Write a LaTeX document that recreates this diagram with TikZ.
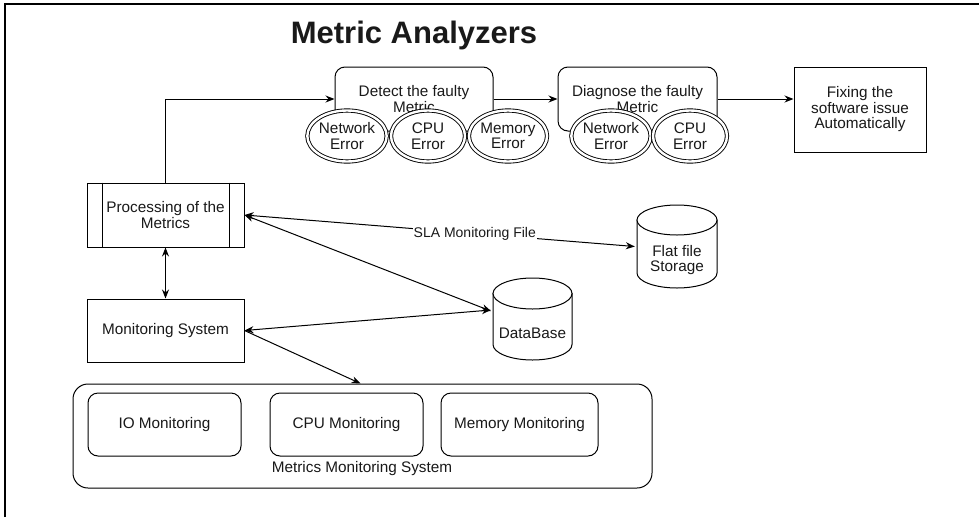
\documentclass[tikz,border=0pt]{standalone}
\usepackage{fontspec}
\setmainfont{Liberation Sans}
\usetikzlibrary{arrows.meta,shapes.geometric,calc}
\begin{document}
\begin{tikzpicture}[x=1pt,y=-1pt,
  every node/.style={font=\fontsize{15.3}{15.5}\selectfont, align=center, inner sep=0pt, text=black!90},
  box/.style={draw, line width=1pt, fill=white},
  rbox/.style={box, rounded corners=10pt},
  err/.style={ellipse, draw, line width=0.9pt, double, double distance=2.4pt, fill=white, minimum width=74pt, minimum height=51pt},
  arr/.style={line width=1pt, -{Stealth[length=9pt,width=7pt]}},
  darr/.style={line width=1pt, {Stealth[length=9pt,width=7pt]}-{Stealth[length=9pt,width=7pt]}},
  lbl/.style={font=\fontsize{14}{14}\selectfont, fill=white, inner sep=1pt},
  cyl/.style={draw, line width=1pt, fill=white}
]
\useasboundingbox (0,0) rectangle (979,517);
\draw[line width=1.2pt] (5,517) -- (5,4) -- (979,4);

\node[font=\fontsize{31}{31}\selectfont\bfseries] (title) at (414,35) {Metric Analyzers};

% top row
\node[rbox, minimum width=158pt, minimum height=64pt] (detect) at (414,99) {Detect the faulty\\Metric};
\node[rbox, minimum width=159pt, minimum height=64pt] (diag) at (637.5,99) {Diagnose the faulty\\Metric};
\node[box, minimum width=132pt, minimum height=85pt] (fix) at (860,109.5) {Fixing the\\software issue\\Automatically};

\node[err] (d1) at (347,136) {Network\\Error};
\node[err] (d2) at (428,136) {CPU\\Error};
\node[err] (d3) at (508,136) {Memory\\Error};
\node[err] (g1) at (611,136) {Network\\Error};
\node[err] (g2) at (690,136) {CPU\\Error};

% left column
\node[box, minimum width=157pt, minimum height=64pt] (proc) at (165.5,215) {Processing of the\\Metrics};
\draw[line width=1pt] ([xshift=16pt]proc.north west) -- ([xshift=16pt]proc.south west);
\draw[line width=1pt] ([xshift=-15pt]proc.north east) -- ([xshift=-15pt]proc.south east);
\node[box, minimum width=157pt, minimum height=63pt] (mon) at (165.5,330.5) {Monitoring System};

% cylinders
\node[minimum width=80pt, minimum height=83pt] (flat) at (677,246.5) {};
\path[cyl] (637,220) -- (637,273) .. controls (637,281.3) and (654.9,288) .. (677,288)
  .. controls (699.1,288) and (717,281.3) .. (717,273) -- (717,220) -- cycle;
\draw[line width=1pt, fill=white] (677,220) ellipse [x radius=40pt, y radius=15pt];
\node (flatlbl) at (677,260) {Flat file\\Storage};

\node[minimum width=79pt, minimum height=82pt] (db) at (532.5,319) {};
\path[cyl] (493,293.5) -- (493,344.5) .. controls (493,353) and (510.7,360) .. (532.5,360)
  .. controls (554.3,360) and (572,353) .. (572,344.5) -- (572,293.5) -- cycle;
\draw[line width=1pt, fill=white] (532.5,293.5) ellipse [x radius=39.5pt, y radius=15.5pt];
\node (dblbl) at (532.5,333) {DataBase};

% bottom container
\node[box, rounded corners=15pt, minimum width=579pt, minimum height=104pt] (mms) at (362.5,436) {};
\node[rbox, minimum width=153pt, minimum height=63pt] (io) at (164.5,424.5) {IO Monitoring};
\node[rbox, minimum width=153pt, minimum height=63pt] (cpu) at (346.5,424.5) {CPU Monitoring};
\node[rbox, minimum width=157pt, minimum height=63pt] (mem) at (519.5,424.5) {Memory Monitoring};
\node (mmslbl) at (362,469) {Metrics Monitoring System};

% connectors
\draw[arr] (proc.north) |- (detect.west);
\draw[arr] (detect.east) -- (diag.west);
\draw[arr] (diag.east) -- (diag.east -| fix.west);
\draw[darr] (proc.south) -- (mon.north);
\draw[darr] (proc.east) -- node[lbl, pos=0.59] (sla) {SLA Monitoring File} ([xshift=-2pt]flat.west);
\draw[darr] (proc.east) -- ([xshift=-2pt,yshift=8pt]db.west);
\draw[darr] (mon.east) -- ([xshift=-2pt,yshift=9pt]db.west);
\draw[arr] (mon.east) -- ([xshift=-2pt]mms.north);
\end{tikzpicture}
\end{document}
